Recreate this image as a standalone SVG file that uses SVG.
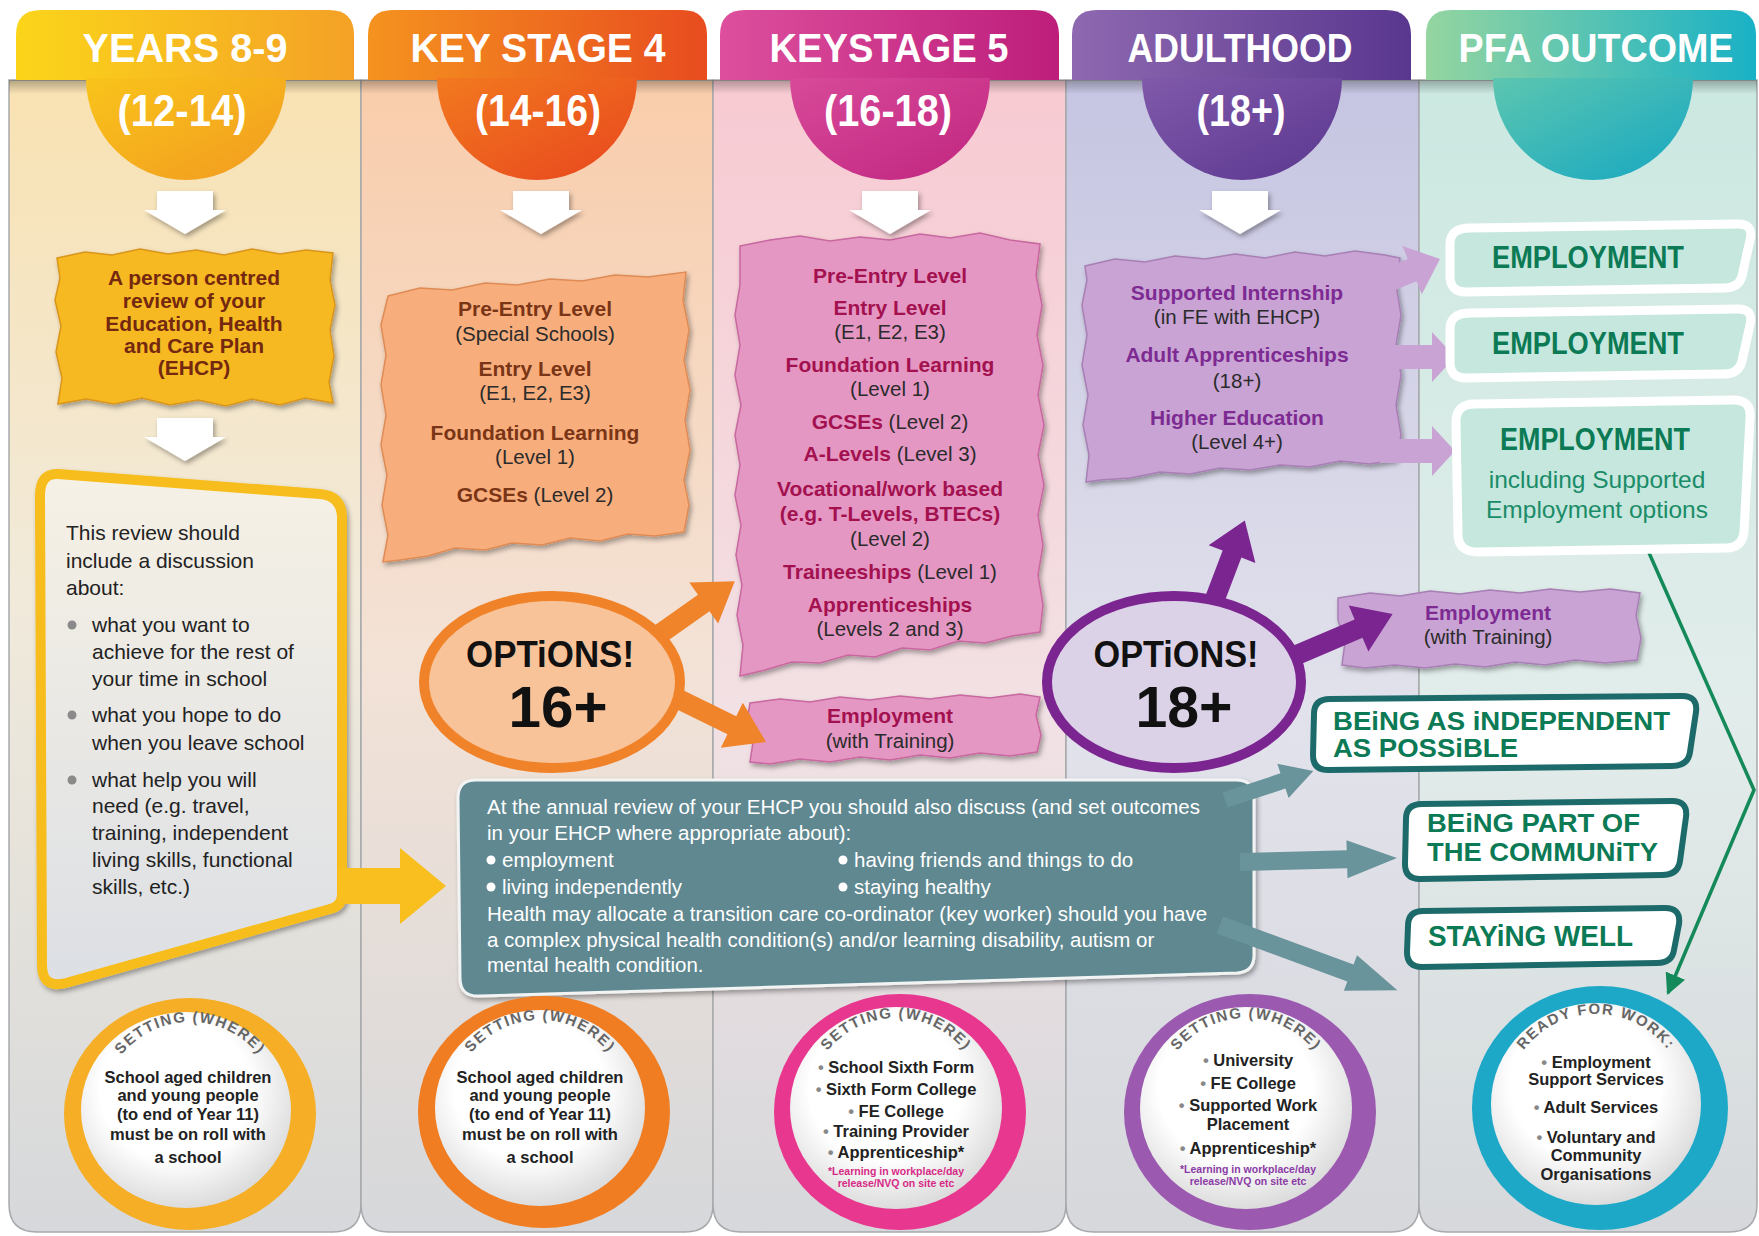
<svg xmlns="http://www.w3.org/2000/svg" width="1759" height="1236" viewBox="0 0 1759 1236">
<defs>
<style>
.ff{font-family:"Liberation Sans",Arial,sans-serif}
.hd{font-family:"Liberation Sans",Arial,sans-serif;font-weight:bold;fill:#fff;text-anchor:middle;font-size:40px}
.ag{font-family:"Liberation Sans",Arial,sans-serif;font-weight:bold;fill:#fff;text-anchor:middle;font-size:44px}
.tb{font-family:"Liberation Sans",Arial,sans-serif;font-weight:bold;text-anchor:middle;font-size:21px}
.tr{font-family:"Liberation Sans",Arial,sans-serif;text-anchor:middle;font-size:20.5px;fill:#2b2b2b}
.bx{font-family:"Liberation Sans",Arial,sans-serif;font-size:21px;fill:#222}
.gt{font-family:"Liberation Sans",Arial,sans-serif;font-size:20.5px;fill:#fff}
.opt{font-family:"Liberation Sans",Arial,sans-serif;font-weight:bold;fill:#111;text-anchor:middle}
.out{font-family:"Liberation Sans",Arial,sans-serif;font-weight:bold;fill:#0b7a55}
.st{font-family:"Liberation Sans",Arial,sans-serif;font-weight:bold;font-size:16.5px;fill:#222;text-anchor:middle}
.arc{font-family:"Liberation Sans",Arial,sans-serif;font-weight:bold;font-size:15px;fill:#666;letter-spacing:1.5px}
.sm{font-family:"Liberation Sans",Arial,sans-serif;font-weight:bold;font-size:10.5px;text-anchor:middle}
.col{stroke:#a7a9ac;stroke-width:1.5}
.sh{filter:url(#sh)}
.ob{fill:#c6e7de;stroke:#fff;stroke-width:9}
.tb2{fill:#fff;stroke:#1d6a6a;stroke-width:6}
.gray{fill:#6a949b}
</style>
<filter id="sh" x="-10%" y="-10%" width="125%" height="130%">
<feDropShadow dx="2" dy="3" stdDeviation="2.5" flood-color="#000" flood-opacity="0.35"/>
</filter>
<linearGradient id="hg1" x1="0" y1="0" x2="1" y2="0"><stop offset="0" stop-color="#fbd51a"/><stop offset="1" stop-color="#f4a126"/></linearGradient>
<linearGradient id="hg2" x1="0" y1="0" x2="1" y2="0"><stop offset="0" stop-color="#f5931f"/><stop offset="1" stop-color="#e84c1f"/></linearGradient>
<linearGradient id="hg3" x1="0" y1="0" x2="1" y2="0"><stop offset="0" stop-color="#dd4f9d"/><stop offset="1" stop-color="#bd1e7b"/></linearGradient>
<linearGradient id="hg4" x1="0" y1="0" x2="1" y2="0"><stop offset="0" stop-color="#8e68b0"/><stop offset="1" stop-color="#5a378f"/></linearGradient>
<linearGradient id="hg5" x1="0" y1="0" x2="1" y2="0"><stop offset="0" stop-color="#95d5a0"/><stop offset="1" stop-color="#19b1c6"/></linearGradient>
<linearGradient id="cg1" x1="0" y1="0" x2="1" y2="1"><stop offset="0" stop-color="#f9c41b"/><stop offset="1" stop-color="#f29a20"/></linearGradient>
<linearGradient id="cg2" x1="0" y1="0" x2="1" y2="1"><stop offset="0" stop-color="#f2791f"/><stop offset="1" stop-color="#e8461e"/></linearGradient>
<linearGradient id="cg3" x1="0" y1="0" x2="1" y2="1"><stop offset="0" stop-color="#d84a99"/><stop offset="1" stop-color="#c02580"/></linearGradient>
<linearGradient id="cg4" x1="0" y1="0" x2="1" y2="1"><stop offset="0" stop-color="#8059aa"/><stop offset="1" stop-color="#5a378f"/></linearGradient>
<linearGradient id="cg5" x1="0" y1="0" x2="1" y2="1"><stop offset="0" stop-color="#5cc6b0"/><stop offset="1" stop-color="#16a7c2"/></linearGradient>
<linearGradient id="bg1" x1="0" y1="0" x2="0" y2="1"><stop offset="0" stop-color="#f9e2b2"/><stop offset="0.45" stop-color="#f1eadb"/><stop offset="1" stop-color="#d6d8db"/></linearGradient>
<linearGradient id="bg2" x1="0" y1="0" x2="0" y2="1"><stop offset="0" stop-color="#f9cdab"/><stop offset="0.5" stop-color="#f3e2d6"/><stop offset="1" stop-color="#d6d8db"/></linearGradient>
<linearGradient id="bg3" x1="0" y1="0" x2="0" y2="1"><stop offset="0" stop-color="#f8cad2"/><stop offset="0.55" stop-color="#f2e1e4"/><stop offset="1" stop-color="#d6d8db"/></linearGradient>
<linearGradient id="bg4" x1="0" y1="0" x2="0" y2="1"><stop offset="0" stop-color="#c6c5e2"/><stop offset="0.55" stop-color="#e2e2ec"/><stop offset="1" stop-color="#d6d8db"/></linearGradient>
<linearGradient id="bg5" x1="0" y1="0" x2="0" y2="1"><stop offset="0" stop-color="#cbe8e1"/><stop offset="0.55" stop-color="#e2edeb"/><stop offset="1" stop-color="#d6d8db"/></linearGradient>
<linearGradient id="yb" x1="0" y1="0" x2="0" y2="1"><stop offset="0" stop-color="#f6f1e5"/><stop offset="1" stop-color="#dcdfe4"/></linearGradient>
<linearGradient id="tsh" x1="0" y1="0" x2="0" y2="1"><stop offset="0" stop-color="#000" stop-opacity="0.28"/><stop offset="1" stop-color="#000" stop-opacity="0"/></linearGradient>
<radialGradient id="rw" cx="0.45" cy="0.4" r="0.6"><stop offset="0.6" stop-color="#ffffff"/><stop offset="1" stop-color="#dcdcdc"/></radialGradient>
<marker id="gh" viewBox="0 0 10 10" refX="9" refY="5" markerWidth="6" markerHeight="6" orient="auto" markerUnits="strokeWidth">
<path d="M0,0 L10,5 L0,10 Z" fill="#14895a"/>
</marker>
<path id="a1" d="M102,1110 A88,88 0 0 1 278,1110"/>
<path id="a2" d="M452,1108 A88,88 0 0 1 628,1108"/>
<path id="a3" d="M808,1106 A88,88 0 0 1 984,1106"/>
<path id="a4" d="M1158,1106 A88,88 0 0 1 1334,1106"/>
<path id="a5" d="M1506,1104 A90,90 0 0 1 1686,1104"/>
</defs>

<rect width="1759" height="1236" fill="#fff"/>

<g id="columns">
<path class="col" fill="url(#bg1)" d="M9,80 L361,80 L361,1204 Q361,1232 333,1232 L37,1232 Q9,1232 9,1204 Z"/>
<path class="col" fill="url(#bg2)" d="M361,80 L713,80 L713,1204 Q713,1232 685,1232 L389,1232 Q361,1232 361,1204 Z"/>
<path class="col" fill="url(#bg3)" d="M713,80 L1066,80 L1066,1204 Q1066,1232 1038,1232 L741,1232 Q713,1232 713,1204 Z"/>
<path class="col" fill="url(#bg4)" d="M1066,80 L1419,80 L1419,1204 Q1419,1232 1391,1232 L1094,1232 Q1066,1232 1066,1204 Z"/>
<path class="col" fill="url(#bg5)" d="M1419,80 L1757,80 L1757,1204 Q1757,1232 1729,1232 L1447,1232 Q1419,1232 1419,1204 Z"/>
<rect x="9" y="80" width="1748" height="14" fill="url(#tsh)"/>
</g>

<g id="header-years">
<path fill="url(#hg1)" d="M16,80 L16,35 Q16,10 41,10 L329,10 Q354,10 354,35 L354,80 Z"/>
<path fill="url(#cg1)" d="M86,78 A100,102 0 0 0 286,78 Z"/>
<text class="hd" x="185" y="62" textLength="205" lengthAdjust="spacingAndGlyphs">YEARS 8-9</text>
<text class="ag" x="182" y="126" textLength="129" lengthAdjust="spacingAndGlyphs">(12-14)</text>
</g>
<g id="header-ks4">
<path fill="url(#hg2)" d="M368,80 L368,35 Q368,10 393,10 L682,10 Q707,10 707,35 L707,80 Z"/>
<path fill="url(#cg2)" d="M437,78 A100,102 0 0 0 637,78 Z"/>
<text class="hd" x="538" y="62" textLength="255" lengthAdjust="spacingAndGlyphs">KEY STAGE 4</text>
<text class="ag" x="538" y="126" textLength="126" lengthAdjust="spacingAndGlyphs">(14-16)</text>
</g>
<g id="header-ks5">
<path fill="url(#hg3)" d="M720,80 L720,35 Q720,10 745,10 L1034,10 Q1059,10 1059,35 L1059,80 Z"/>
<path fill="url(#cg3)" d="M790,78 A100,102 0 0 0 990,78 Z"/>
<text class="hd" x="889" y="62" textLength="239" lengthAdjust="spacingAndGlyphs">KEYSTAGE 5</text>
<text class="ag" x="888" y="126" textLength="128" lengthAdjust="spacingAndGlyphs">(16-18)</text>
</g>
<g id="header-adult">
<path fill="url(#hg4)" d="M1072,80 L1072,35 Q1072,10 1097,10 L1386,10 Q1411,10 1411,35 L1411,80 Z"/>
<path fill="url(#cg4)" d="M1142,78 A100,102 0 0 0 1342,78 Z"/>
<text class="hd" x="1240" y="62" textLength="225" lengthAdjust="spacingAndGlyphs">ADULTHOOD</text>
<text class="ag" x="1241" y="126" textLength="89" lengthAdjust="spacingAndGlyphs">(18+)</text>
</g>
<g id="header-pfa">
<path fill="url(#hg5)" d="M1426,80 L1426,35 Q1426,10 1451,10 L1731,10 Q1756,10 1756,35 L1756,80 Z"/>
<path fill="url(#cg5)" d="M1493,78 A100,102 0 0 0 1693,78 Z"/>
<text class="hd" x="1596" y="62" textLength="275" lengthAdjust="spacingAndGlyphs">PFA OUTCOME</text>
</g>

<g id="review-ehcp">
<path class="sh" fill="#f6b923" stroke="#d9951a" stroke-width="1.5" d="M57,258 L85,252 L112,255 L140,249 L168,254 L196,250 L224,255 L252,249 L280,254 L306,250 L333,253 L330,280 L335,305 L330,330 L334,356 L329,382 L333,403 L305,398 L280,405 L252,399 L226,406 L198,400 L170,405 L142,398 L114,404 L86,399 L58,404 L62,378 L56,352 L61,326 L55,300 L60,278 Z"/>
<g class="tb" fill="#74280f">
<text x="194" y="285">A person centred</text>
<text x="194" y="308">review of your</text>
<text x="194" y="331">Education, Health</text>
<text x="194" y="353">and Care Plan</text>
<text x="194" y="375">(EHCP)</text>
</g>
</g>

<g id="ks4-levels">
<path class="sh" fill="#f7ae7b" stroke="#df8b55" stroke-width="1.5" d="M388,296 L420,288 L452,290 L485,283 L517,285 L550,279 L582,281 L615,275 L648,277 L686,272 L683,300 L689,330 L684,360 L690,390 L685,420 L690,450 L684,480 L689,505 L684,532 L655,536 L628,534 L600,541 L570,538 L542,545 L512,543 L485,550 L455,548 L428,556 L400,560 L383,562 L388,535 L382,505 L387,475 L381,445 L386,415 L381,385 L386,355 L381,325 Z"/>
<text class="tb" x="535" y="316" fill="#7a3516">Pre-Entry Level</text>
<text class="tr" x="535" y="341">(Special Schools)</text>
<text class="tb" x="535" y="376" fill="#7a3516">Entry Level</text>
<text class="tr" x="535" y="400">(E1, E2, E3)</text>
<text class="tb" x="535" y="440" fill="#7a3516">Foundation Learning</text>
<text class="tr" x="535" y="464">(Level 1)</text>
<text class="tr" x="535" y="502"><tspan font-weight="bold" fill="#7a3516" font-size="21px">GCSEs</tspan> (Level 2)</text>
</g>

<g id="ks5-levels">
<path class="sh" fill="#e597c4" stroke="#c8679f" stroke-width="1.5" d="M740,246 L770,240 L800,236 L830,241 L860,237 L890,240 L920,234 L950,238 L980,233 L1010,240 L1040,244 L1036,275 L1042,305 L1037,335 L1043,365 L1038,395 L1044,425 L1038,455 L1044,485 L1038,515 L1043,545 L1038,575 L1043,605 L1040,632 L1012,636 L985,643 L958,641 L930,650 L902,648 L875,657 L848,655 L820,663 L792,662 L765,670 L740,676 L743,645 L737,615 L742,585 L736,555 L741,525 L735,495 L740,465 L735,435 L741,405 L735,375 L740,345 L735,315 L740,285 Z"/>
<g fill="#a3114f">
<text class="tb" x="890" y="283">Pre-Entry Level</text>
<text class="tb" x="890" y="315">Entry Level</text>
<text class="tr" x="890" y="339">(E1, E2, E3)</text>
<text class="tb" x="890" y="372">Foundation Learning</text>
<text class="tr" x="890" y="396">(Level 1)</text>
<text class="tr" x="890" y="429"><tspan font-weight="bold" fill="#a3114f" font-size="21px">GCSEs</tspan> (Level 2)</text>
<text class="tr" x="890" y="461"><tspan font-weight="bold" fill="#a3114f" font-size="21px">A-Levels</tspan> (Level 3)</text>
<text class="tb" x="890" y="496">Vocational/work based</text>
<text class="tb" x="890" y="521">(e.g. T-Levels, BTECs)</text>
<text class="tr" x="890" y="546">(Level 2)</text>
<text class="tr" x="890" y="579"><tspan font-weight="bold" fill="#a3114f" font-size="21px">Traineeships</tspan> (Level 1)</text>
<text class="tb" x="890" y="612">Apprenticeships</text>
<text class="tr" x="890" y="636">(Levels 2 and 3)</text>
</g>
</g>

<g id="ks5-employment">
<path class="sh" fill="#e597c4" stroke="#c8679f" stroke-width="1.5" d="M750,703 L780,699 L810,702 L840,697 L870,700 L900,696 L930,699 L960,695 L990,698 L1020,694 L1040,697 L1036,715 L1041,735 L1037,752 L1010,756 L980,753 L950,758 L920,755 L890,760 L860,757 L830,762 L800,759 L770,764 L750,762 L753,742 L747,722 Z"/>
<text class="tb" x="890" y="723" fill="#a3114f">Employment</text>
<text class="tr" x="890" y="748">(with Training)</text>
</g>

<g id="adult-levels">
<path class="sh" fill="#c8a3d3" stroke="#a87fb5" stroke-width="1.5" d="M1085,266 L1115,259 L1145,262 L1175,256 L1205,259 L1235,254 L1265,258 L1295,252 L1325,256 L1355,251 L1385,255 L1400,258 L1396,285 L1401,315 L1396,345 L1401,375 L1396,405 L1401,435 L1396,460 L1370,464 L1340,461 L1310,467 L1280,465 L1250,470 L1220,468 L1190,474 L1160,472 L1130,478 L1100,480 L1086,482 L1089,455 L1083,425 L1088,395 L1082,365 L1087,335 L1082,305 L1087,280 Z"/>
<g fill="#7d2a92">
<text class="tb" x="1237" y="300">Supported Internship</text>
<text class="tr" x="1237" y="324">(in FE with EHCP)</text>
<text class="tb" x="1237" y="362">Adult Apprenticeships</text>
<text class="tr" x="1237" y="388">(18+)</text>
<text class="tb" x="1237" y="425">Higher Education</text>
<text class="tr" x="1237" y="449">(Level 4+)</text>
</g>
</g>

<g id="adult-employment">
<path class="sh" fill="#c8a3d3" stroke="#a87fb5" stroke-width="1.5" d="M1338,598 L1370,593 L1400,596 L1430,591 L1460,594 L1490,590 L1520,593 L1550,589 L1580,592 L1610,589 L1640,593 L1636,615 L1641,638 L1637,660 L1605,663 L1575,660 L1545,665 L1515,662 L1485,667 L1455,664 L1425,668 L1395,665 L1365,668 L1342,665 L1345,642 L1338,620 Z"/>
<text class="tb" x="1488" y="620" fill="#7d2a92">Employment</text>
<text class="tr" x="1488" y="644">(with Training)</text>
</g>

<g id="review-discussion">
<path class="sh" fill="url(#yb)" stroke="#f7bd1b" stroke-width="10" stroke-linejoin="round" d="M58,474 L320,494 Q342,496 342,518 L342,895 Q342,906 330,909 L66,983 Q42,989 42,965 L40,496 Q40,473 58,474 Z"/>
<g class="bx">
<text x="66" y="540">This review should</text>
<text x="66" y="568">include a discussion</text>
<text x="66" y="595">about:</text>
<text x="92" y="632">what you want to</text>
<text x="92" y="659">achieve for the rest of</text>
<text x="92" y="686">your time in school</text>
<text x="92" y="722">what you hope to do</text>
<text x="92" y="750">when you leave school</text>
<text x="92" y="787">what help you will</text>
<text x="92" y="813">need (e.g. travel,</text>
<text x="92" y="840">training, independent</text>
<text x="92" y="867">living skills, functional</text>
<text x="92" y="894">skills, etc.)</text>
</g>
<g fill="#8a8a8a">
<circle cx="72" cy="625" r="4.5"/>
<circle cx="72" cy="715" r="4.5"/>
<circle cx="72" cy="780" r="4.5"/>
</g>
</g>

<g id="annual-review">
<path class="sh" fill="#5e8891" stroke="#f2f4f4" stroke-width="3" d="M476,780 L1236,780 Q1254,780 1254,798 L1254,955 Q1254,972 1237,973 L480,996 Q460,997 460,978 L458,798 Q458,780 476,780 Z"/>
<g class="gt">
<text x="487" y="814">At the annual review of your EHCP you should also discuss (and set outcomes</text>
<text x="487" y="840">in your EHCP where appropriate about):</text>
<text x="502" y="867">employment</text>
<text x="854" y="867">having friends and things to do</text>
<text x="502" y="894">living independently</text>
<text x="854" y="894">staying healthy</text>
<text x="487" y="921">Health may allocate a transition care co-ordinator (key worker) should you have</text>
<text x="487" y="947">a complex physical health condition(s) and/or learning disability, autism or</text>
<text x="487" y="972">mental health condition.</text>
</g>
<g fill="#fff">
<circle cx="491" cy="860" r="4.5"/>
<circle cx="843" cy="860" r="4.5"/>
<circle cx="491" cy="887" r="4.5"/>
<circle cx="843" cy="887" r="4.5"/>
</g>
</g>

<g id="connectors">
<g fill="#fff" class="sh">
<polygon points="157,191 213,191 213,210 226,210 185,234 144,210 157,210"/>
<polygon points="513,191 569,191 569,210 582,210 541,234 500,210 513,210"/>
<polygon points="862,191 918,191 918,210 931,210 890,234 849,210 862,210"/>
<polygon points="1212,191 1268,191 1268,210 1281,210 1240,234 1199,210 1212,210"/>
<polygon points="157,418 213,418 213,437 226,437 185,461 144,437 157,437"/>
</g>
<polygon fill="#f8bf1e" points="338,868 400,868 400,848 446,886 400,924 400,904 338,904"/>
<g fill="#f0842a">
<polygon transform="translate(640,648) rotate(-35.2)" points="0,-10 78,-10 78,-25 116,0 78,25 78,10 0,10"/>
<polygon transform="translate(660,690) rotate(26.1)" points="0,-10 80,-10 80,-25 118,0 80,25 80,10 0,10"/>
</g>
<g fill="#7b2590">
<polygon transform="translate(1210,612) rotate(-69.2)" points="0,-10 62,-10 62,-25 98,0 62,25 62,10 0,10"/>
<polygon transform="translate(1285,660) rotate(-23.1)" points="0,-10 80,-10 80,-25 117,0 80,25 80,10 0,10"/>
</g>
<g fill="#c8a3d3">
<polygon transform="translate(1375,285) rotate(-21.8)" points="0,-12 40,-12 40,-26 70,0 40,26 40,12 0,12"/>
<polygon transform="translate(1380,357)" points="0,-12 52,-12 52,-25 75,0 52,25 52,12 0,12"/>
<polygon transform="translate(1380,451)" points="0,-12 52,-12 52,-25 75,0 52,25 52,12 0,12"/>
</g>
<g class="gray">
<polygon transform="translate(1225,800) rotate(-18.2)" points="0,-8 61,-8 61,-18 93,0 61,18 61,8 0,8"/>
<polygon transform="translate(1240,862) rotate(-1.5)" points="0,-9 107,-9 107,-19 157,0 107,19 107,9 0,9"/>
<polygon transform="translate(1220,925) rotate(20.2)" points="0,-9 139,-9 139,-19 189,0 139,19 139,9 0,9"/>
</g>
<polyline fill="none" stroke="#14895a" stroke-width="3.5" points="1642,537 1754,790 1668,993" marker-end="url(#gh)"/>
</g>

<g id="options-16">
<ellipse cx="552" cy="682" rx="128" ry="86" fill="#f9c39a" stroke="#f0832a" stroke-width="10"/>
<text class="opt" x="550" y="667" font-size="36" textLength="168" lengthAdjust="spacingAndGlyphs">OPTiONS!</text>
<text class="opt" x="558" y="727" font-size="58" textLength="99" lengthAdjust="spacingAndGlyphs">16+</text>
</g>
<g id="options-18">
<ellipse cx="1174" cy="682" rx="127" ry="86" fill="#dcd2e8" stroke="#7b2590" stroke-width="10"/>
<text class="opt" x="1176" y="667" font-size="36" textLength="165" lengthAdjust="spacingAndGlyphs">OPTiONS!</text>
<text class="opt" x="1184" y="727" font-size="58" textLength="97" lengthAdjust="spacingAndGlyphs">18+</text>
</g>

<g id="outcome-employment-1">
<path class="ob" d="M1470,228 L1738,224 Q1754,224 1750,240 L1742,276 Q1739,288 1724,288 L1466,292 Q1450,292 1450,276 L1450,244 Q1450,228 1470,228 Z"/>
<text class="out" x="1588" y="268" font-size="31" text-anchor="middle" textLength="192" lengthAdjust="spacingAndGlyphs">EMPLOYMENT</text>
</g>
<g id="outcome-employment-2">
<path class="ob" d="M1470,313 L1738,309 Q1754,309 1750,325 L1742,361 Q1739,374 1724,374 L1466,378 Q1450,378 1450,362 L1450,329 Q1450,313 1470,313 Z"/>
<text class="out" x="1588" y="354" font-size="31" text-anchor="middle" textLength="192" lengthAdjust="spacingAndGlyphs">EMPLOYMENT</text>
</g>
<g id="outcome-employment-3">
<path class="ob" d="M1475,404 L1733,400 Q1752,400 1750,418 L1744,532 Q1742,548 1726,548 L1478,552 Q1458,552 1458,534 L1456,422 Q1456,404 1475,404 Z"/>
<text class="out" x="1595" y="450" font-size="31" text-anchor="middle" textLength="190" lengthAdjust="spacingAndGlyphs">EMPLOYMENT</text>
<text class="ff" x="1597" y="488" font-size="24.5" fill="#1b8c68" text-anchor="middle">including Supported</text>
<text class="ff" x="1597" y="518" font-size="24.5" fill="#1b8c68" text-anchor="middle">Employment options</text>
</g>
<g id="outcome-independent">
<path class="tb2" d="M1330,699 L1682,696 Q1698,696 1696,712 L1690,752 Q1688,766 1672,766 L1328,770 Q1313,770 1313,755 L1314,714 Q1314,699 1330,699 Z"/>
<text class="out" x="1333" y="730" font-size="25" textLength="337" lengthAdjust="spacingAndGlyphs">BEiNG AS iNDEPENDENT</text>
<text class="out" x="1333" y="757" font-size="25" textLength="185" lengthAdjust="spacingAndGlyphs">AS POSSiBLE</text>
</g>
<g id="outcome-community">
<path class="tb2" d="M1422,804 L1672,801 Q1688,801 1686,817 L1680,861 Q1678,875 1662,875 L1420,879 Q1405,879 1405,864 L1406,819 Q1406,804 1422,804 Z"/>
<text class="out" x="1427" y="832" font-size="26" textLength="213" lengthAdjust="spacingAndGlyphs">BEiNG PART OF</text>
<text class="out" x="1427" y="861" font-size="26" textLength="231" lengthAdjust="spacingAndGlyphs">THE COMMUNiTY</text>
</g>
<g id="outcome-staying-well">
<path class="tb2" d="M1423,911 L1665,908 Q1681,908 1679,924 L1674,950 Q1672,963 1657,963 L1422,967 Q1407,967 1407,952 L1408,926 Q1408,911 1423,911 Z"/>
<text class="out" x="1428" y="946" font-size="29" textLength="205" lengthAdjust="spacingAndGlyphs">STAYiNG WELL</text>
</g>

<g id="setting-years">
<ellipse cx="190" cy="1114" rx="126" ry="116" fill="#f5ae25"/>
<ellipse cx="186" cy="1110" rx="105" ry="98" fill="url(#rw)"/>
<text class="arc"><textPath href="#a1" startOffset="50%" text-anchor="middle">SETTING (WHERE)</textPath></text>
<text class="st" x="188" y="1083">School aged children</text>
<text class="st" x="188" y="1101">and young people</text>
<text class="st" x="188" y="1120">(to end of Year 11)</text>
<text class="st" x="188" y="1140">must be on roll with</text>
<text class="st" x="188" y="1163">a school</text>
</g>
<g id="setting-ks4">
<ellipse cx="544" cy="1112" rx="126" ry="116" fill="#f07d22"/>
<ellipse cx="540" cy="1108" rx="105" ry="98" fill="url(#rw)"/>
<text class="arc"><textPath href="#a2" startOffset="50%" text-anchor="middle">SETTING (WHERE)</textPath></text>
<text class="st" x="540" y="1083">School aged children</text>
<text class="st" x="540" y="1101">and young people</text>
<text class="st" x="540" y="1120">(to end of Year 11)</text>
<text class="st" x="540" y="1140">must be on roll with</text>
<text class="st" x="540" y="1163">a school</text>
</g>
<g id="setting-ks5">
<ellipse cx="900" cy="1112" rx="126" ry="118" fill="#e8378f"/>
<ellipse cx="896" cy="1108" rx="106" ry="101" fill="url(#rw)"/>
<text class="arc"><textPath href="#a3" startOffset="50%" text-anchor="middle">SETTING (WHERE)</textPath></text>
<text class="st" x="896" y="1073"><tspan fill="#888">• </tspan>School Sixth Form</text>
<text class="st" x="896" y="1095"><tspan fill="#888">• </tspan>Sixth Form College</text>
<text class="st" x="896" y="1117"><tspan fill="#888">• </tspan>FE College</text>
<text class="st" x="896" y="1137"><tspan fill="#888">• </tspan>Training Provider</text>
<text class="st" x="896" y="1158"><tspan fill="#888">• </tspan>Apprenticeship*</text>
<text class="sm" x="896" y="1175" fill="#d62a86">*Learning in workplace/day</text>
<text class="sm" x="896" y="1187" fill="#d62a86">release/NVQ on site etc</text>
</g>
<g id="setting-adult">
<ellipse cx="1250" cy="1112" rx="126" ry="118" fill="#9b5ab0"/>
<ellipse cx="1246" cy="1108" rx="106" ry="101" fill="url(#rw)"/>
<text class="arc"><textPath href="#a4" startOffset="50%" text-anchor="middle">SETTING (WHERE)</textPath></text>
<text class="st" x="1248" y="1066"><tspan fill="#888">• </tspan>University</text>
<text class="st" x="1248" y="1089"><tspan fill="#888">• </tspan>FE College</text>
<text class="st" x="1248" y="1111"><tspan fill="#888">• </tspan>Supported Work</text>
<text class="st" x="1248" y="1130">Placement</text>
<text class="st" x="1248" y="1154"><tspan fill="#888">• </tspan>Apprenticeship*</text>
<text class="sm" x="1248" y="1173" fill="#8b3aa6">*Learning in workplace/day</text>
<text class="sm" x="1248" y="1185" fill="#8b3aa6">release/NVQ on site etc</text>
</g>
<g id="ready-for-work">
<ellipse cx="1600" cy="1108" rx="128" ry="122" fill="#1ea8c8"/>
<ellipse cx="1596" cy="1104" rx="105" ry="101" fill="url(#rw)"/>
<text class="arc"><textPath href="#a5" startOffset="50%" text-anchor="middle">READY FOR WORK:</textPath></text>
<text class="st" x="1596" y="1068"><tspan fill="#888">• </tspan>Employment</text>
<text class="st" x="1596" y="1085">Support Services</text>
<text class="st" x="1596" y="1113"><tspan fill="#888">• </tspan>Adult Services</text>
<text class="st" x="1596" y="1143"><tspan fill="#888">• </tspan>Voluntary and</text>
<text class="st" x="1596" y="1161">Community</text>
<text class="st" x="1596" y="1180">Organisations</text>
</g>
</svg>
